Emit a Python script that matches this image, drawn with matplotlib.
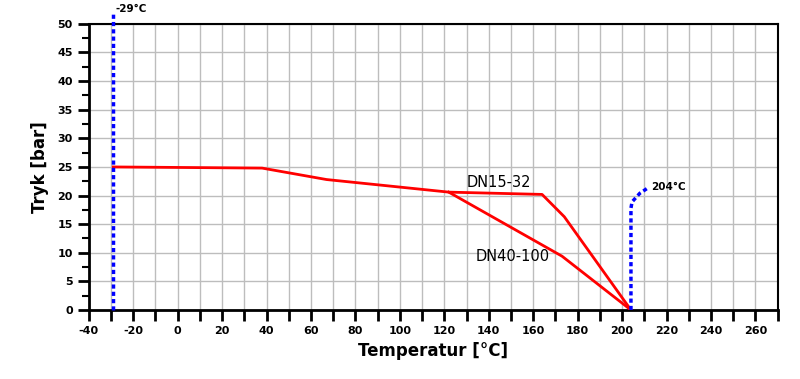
import matplotlib.pyplot as plt
import numpy as np

# Pressure/temperature rating curves
dn15_temp = [-29, 38, 67, 122, 164, 174, 204]
dn15_bar = [25.0, 24.8, 22.8, 20.6, 20.2, 16.3, 0.0]

dn40_temp = [122, 173, 204]
dn40_bar = [20.6, 9.4, 0.0]

# Temperature limits (blue dashed)
low_temp = [-29, -29]
low_bar = [0, 52]
high_temp = [204, 204, 204.5, 208, 211.5]
high_bar = [0.0, 17.8, 18.9, 20.4, 21.3]

fig = plt.figure(figsize=(8, 3.79), dpi=100)
ax = fig.add_axes([0.111, 0.182, 0.861, 0.755])

ax.set_xlim(-40, 270)
ax.set_ylim(0, 50)

ax.set_xticks(np.arange(-40, 271, 10))
ax.set_xticklabels([str(v) if v % 20 == 0 else "" for v in range(-40, 271, 10)])
ax.set_yticks(np.arange(0, 51, 5))
ax.set_yticks(np.arange(0, 51, 2.5), minor=True)

ax.grid(True, which="major", color="#bdbdbd", linewidth=1.0)
ax.set_axisbelow(True)

dash = (0, (1.2, 0.9))
ax.plot(dn15_temp, dn15_bar, color="red", linewidth=2, zorder=3)
ax.plot(dn40_temp, dn40_bar, color="red", linewidth=2, zorder=3)
ax.plot(low_temp, low_bar, color="blue", linewidth=2.5, linestyle=dash,
        clip_on=False, zorder=4)
ax.plot(high_temp, high_bar, color="blue", linewidth=2.5, linestyle=dash,
        zorder=4)

ax.text(-28, 51.8, "-29°C", fontsize=7.5, fontweight="bold", ha="left", va="bottom")
ax.text(213, 21.5, "204°C", fontsize=7.5, fontweight="bold", ha="left", va="center")
ax.text(130, 22.2, "DN15-32", fontsize=10.5, ha="left", va="center")
ax.text(134, 9.3, "DN40-100", fontsize=10.5, ha="left", va="center")

for side in ["left", "bottom"]:
    ax.spines[side].set_linewidth(2)
for side in ["top", "right"]:
    ax.spines[side].set_linewidth(1.5)

ax.tick_params(axis="both", which="major", direction="out", length=8, width=2,
               labelsize=8)
ax.tick_params(axis="y", which="minor", direction="out", length=5, width=1.5)
for lab in ax.get_xticklabels() + ax.get_yticklabels():
    lab.set_fontweight("bold")

ax.set_xlabel("Temperatur [°C]", fontsize=12, fontweight="bold", labelpad=4)
ax.set_ylabel("Tryk [bar]", fontsize=12, fontweight="bold", labelpad=6)

fig.savefig("out.png", dpi=100)
